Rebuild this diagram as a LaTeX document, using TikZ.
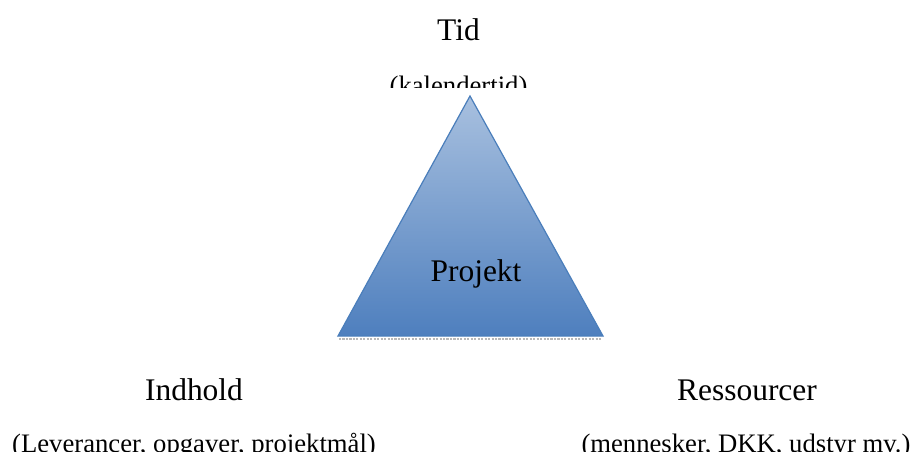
\documentclass[tikz,border=0pt]{standalone}
\usepackage{fontspec}
\setmainfont{Liberation Serif}
\definecolor{triTop}{HTML}{A8C0DF}
\definecolor{triBot}{HTML}{4E7FBE}
\definecolor{triEdge}{HTML}{4A7EBB}
\tikzset{
  mainlabel/.style={anchor=base, inner sep=0pt, font=\fontsize{23.6pt}{28pt}\selectfont},
  sublabel/.style={anchor=base, inner sep=0pt, font=\fontsize{20pt}{24pt}\selectfont},
}
\begin{document}
\begin{tikzpicture}[x=0.75pt,y=-0.75pt]
\clip (0,0) rectangle (914,451);
\fill[white] (0,0) rectangle (914,451);
% triangle
\coordinate (apex) at (470,96);
\coordinate (bl) at (338,336);
\coordinate (br) at (603,336);
\draw[gray!55, line width=1.6pt, densely dotted] (339,338.6) -- (602,338.6);
\shade[top color=triTop, bottom color=triBot] (apex) -- (br) -- (bl) -- cycle;
\draw[triEdge, line width=0.9pt, line join=miter] (apex) -- (br) -- (bl) -- cycle;
\node[mainlabel] (proj) at (476,281) {Projekt};
% top labels
\node[mainlabel] (tid) at (458.5,40) {Tid};
\begin{scope}
\clip (0,0) rectangle (914,87);
\node[sublabel] (kal) at (458.5,94) {(kalendertid)};
\end{scope}
% bottom left
\node[mainlabel] (ind) at (194,400) {Indhold};
\node[sublabel] (lev) at (194,452) {(Leverancer, opgaver, projektmål)};
% bottom right
\node[mainlabel] (res) at (747,400) {Ressourcer};
\node[sublabel] (men) at (746,452) {(mennesker, DKK, udstyr mv.)};
\end{tikzpicture}
\end{document}
